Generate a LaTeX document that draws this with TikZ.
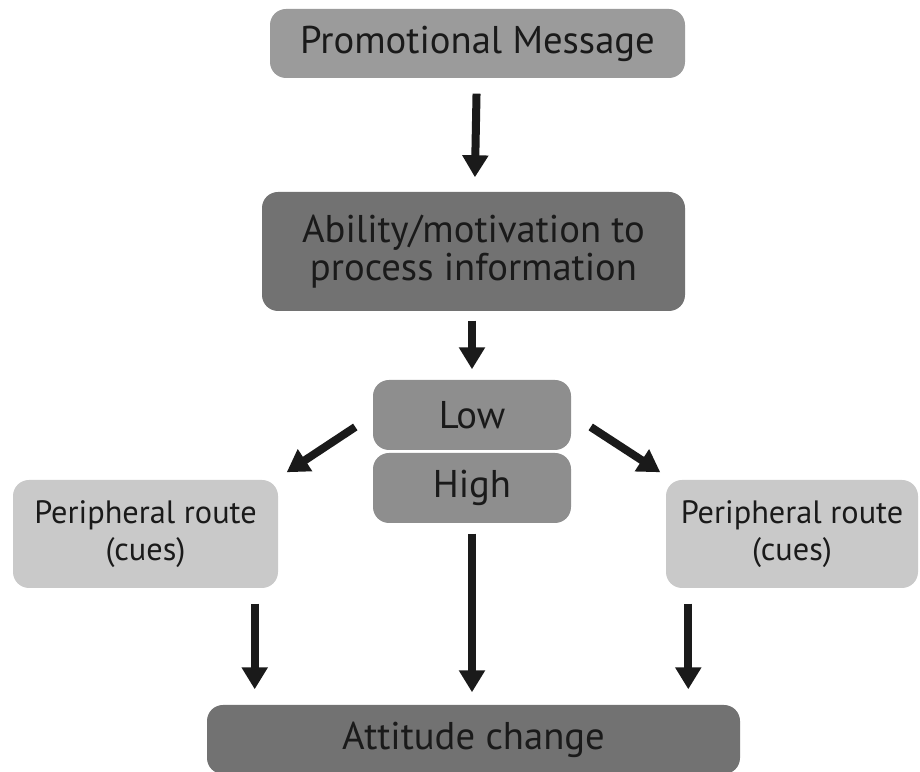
\documentclass[tikz,border=0pt]{standalone}
\usepackage{fontspec}
\setmainfont{PT Sans}
\usetikzlibrary{arrows.meta,calc}
\definecolor{promogray}{HTML}{9B9B9B}
\definecolor{darkgray}{HTML}{727272}
\definecolor{midgray}{HTML}{8E8E8E}
\definecolor{lightgray}{HTML}{C9C9C9}
\definecolor{inkgray}{HTML}{1A1A1A}
\begin{document}
\begin{tikzpicture}[
  box/.style={rounded corners=0.16cm, inner sep=0pt, align=center, text=inkgray, font=\fontsize{11}{10.6}\selectfont},
  small/.style={font=\fontsize{9.2}{10.6}\selectfont},
  arr/.style={line width=0.08cm, draw=inkgray, -{Triangle[width=0.25cm,length=0.22cm]}}
]
\useasboundingbox (0,0) rectangle (9.2,-7.72);

\node[box, fill=promogray, minimum width=4.15cm, minimum height=0.69cm] (promo) at (4.775,-0.435) {Promotional Message};
\node[box, fill=darkgray, minimum width=4.23cm, minimum height=1.19cm] (ability) at (4.735,-2.515) {Ability/motivation to\\process information};
\node[box, fill=midgray, minimum width=1.98cm, minimum height=0.70cm] (low) at (4.72,-4.15) {Low};
\node[box, fill=midgray, minimum width=1.98cm, minimum height=0.70cm] (high) at (4.72,-4.88) {High};
\node[box, small, fill=lightgray, minimum width=2.65cm, minimum height=1.08cm] (periphL) at (1.455,-5.34) {Peripheral route\\(cues)};
\node[box, small, fill=lightgray, minimum width=2.52cm, minimum height=1.08cm] (periphR) at (7.92,-5.34) {Peripheral route\\(cues)};
\node[box, fill=darkgray, minimum width=5.33cm, minimum height=0.69cm] (attitude) at (4.735,-7.395) {Attitude change};

\draw[arr, shorten <=0.15cm, shorten >=0.14cm] (promo) -- (ability);
\draw[arr, shorten <=0.09cm, shorten >=0.10cm] (ability.south -| low) -- (low);
\draw[arr] ($(low.west)+(-0.17,-0.12)$) -- ($(periphL.north east)+(0.08,0.07)$);
\draw[arr] ($(low.east)+(0.19,-0.12)$) -- ($(periphR.north west)+(-0.05,0.07)$);
\draw[arr, shorten <=0.10cm, shorten >=0.12cm] (high.south) -- (attitude.north -| high);
\coordinate (leftdrop) at ($(periphL.south east)+(-0.24,-0.15)$);
\coordinate (rightdrop) at ($(periphR.south west)+(0.23,-0.15)$);
\draw[arr, shorten >=0.15cm] (leftdrop) -- (leftdrop |- attitude.north);
\draw[arr, shorten >=0.15cm] (rightdrop) -- (rightdrop |- attitude.north);
\end{tikzpicture}
\end{document}
